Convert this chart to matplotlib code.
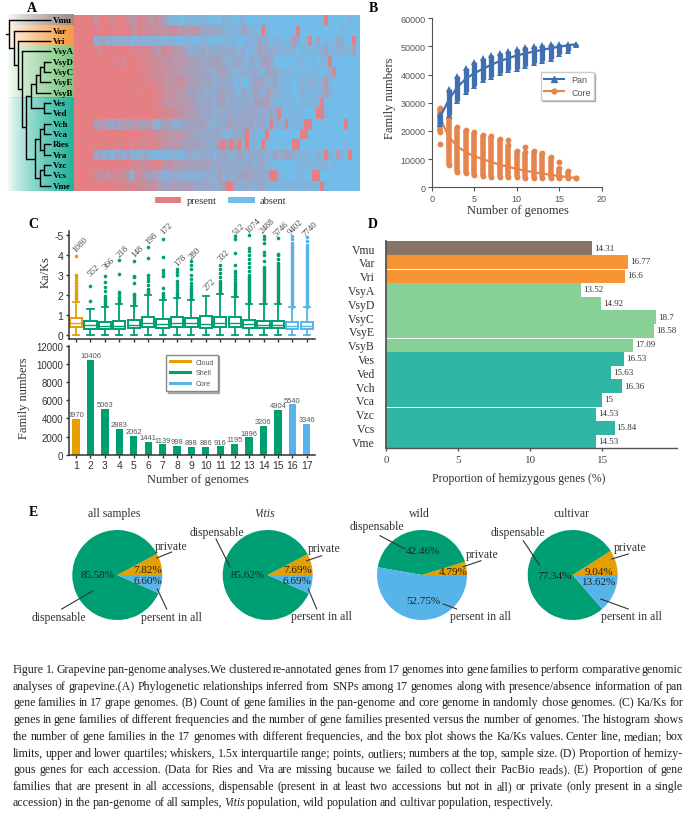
# Figure 1 grapevine pan-genome: panels A-E plus the caption, laid out in pixels

import numpy as np
import matplotlib
matplotlib.use('Agg')
import matplotlib.pyplot as plt
from matplotlib.colors import LinearSegmentedColormap, to_rgb
from matplotlib.lines import Line2D
from matplotlib.patches import Rectangle

W, H = 695, 820
serif = 'Liberation Serif'
sans = 'Liberation Sans'
c_cloud, c_shell, c_core = '#e69f00', '#009e73', '#56b4e9'

# panel A
accessions = ['Vmu', 'Var', 'Vri', 'VsyA', 'VsyD', 'VsyC', 'VsyE', 'VsyB', 'Ves', 'Ved',
              'Vch', 'Vca', 'Ries', 'Vra', 'Vzc', 'Vcs', 'Vme']
# 0 = present, 9 = absent, in between = blurred mix of the two
presence = [
    '000003100210 023312242356 888978887898 978898799989 899999999999 999099999899',
    '000000100100 102302223233 224343356566 678878568790 899999990999 999999989999',
    '000007657677 768778787878 788878987898 887889978767 797889846981 969898679909',
    '000000200100 001111123412 334467675767 667678688756 767787779888 887688777859',
    '000000000010 200011122233 343445556655 567766786775 569999998899 898819999999',
    '000000000000 000001122223 334445565667 556778677678 566788889889 889872999999',
    '000000000000 000100201223 332245456567 667697996656 775888898787 787389999999',
    '000000000000 000010001123 234355566767 556678677568 467788899788 887579999999',
    '000000000000 000000001123 334344566667 557676767555 478888889888 871999999999',
    '000000000000 000000000111 223344556667 676676666676 766188888899 901899999999',
    '000005445656 445355447755 677656555677 675566665766 817780888800 999999990999',
    '000000000000 000001112223 433445666666 678767507888 099999999009 999999999999',
    '000000010002 002012111133 343555556676 305050708790 899989900999 999999998999',
    '000006576866 757776688888 778866776768 666775676767 785765677878 978079479099',
    '000000000001 001122211033 344455555566 667676766766 889999998887 887798999999',
    '000002223212 237323554677 667777777677 476766556667 610889998899 009999999899',
    '000000000011 021122323456 455545666667 650067767766 888888788878 880999999999',
]
# tree as (branch x, children), an int child is a row of the heatmap
tree = (9, [0, (14, [1, (17.5, [2, (22, [3, (26, [
    (31, [(36, [(39.5, [(44, [4, 5]), 6]), 7]), (43.5, [8, 9])]),
    (35, [(39.5, [(44, [10, 11]), (44, [12, 13])]), (39.5, [(44, [14, 15]), 16])]),
])])])])])

# panel B
genomes = np.arange(1, 18)
pan_mean = [25000, 31000, 35500, 38500, 40500, 42000, 43500, 44800, 45800, 46800, 47500, 48200, 48800, 49400, 49900, 50400, 50800]
pan_low = [22500, 25500, 30500, 34000, 36000, 38000, 39000, 40500, 41500, 42000, 43000, 44000, 45000, 45500, 47500, 48500, 50500]
pan_high = [26000, 35000, 39500, 42300, 44500, 45800, 46800, 47800, 48400, 49000, 49700, 50000, 50500, 50700, 50800, 51000, 51000]
core_mean = [24500, 18000, 14500, 12500, 11000, 10000, 9000, 8000, 7300, 6500, 5900, 5300, 4900, 4400, 4000, 3600, 3346]
core_low = [19500, 8000, 5500, 5000, 4500, 4000, 3800, 3500, 3500, 3500, 3400, 3400, 3400, 3400, 3400, 3400, 3300]
core_high = [28000, 24500, 21500, 20300, 19500, 18500, 18300, 17000, 15000, 12800, 12500, 12800, 12200, 10800, 7000, 5700, 3400]
core_x_extra = [1, 9, 11, 15]
core_y_extra = [15500, 16800, 14200, 8900]

# panel C
family_numbers = [3970, 10406, 5063, 2883, 2062, 1441, 1139, 998, 898, 886, 916, 1195, 1896, 3206, 4904, 5540, 3346]
sample_size = [1080, 552, 366, 218, 148, 198, 172, 178, 280, 272, 332, 512, 1074, 2488, 5746, 9402, 7740]
size_label_y = [4.55, 3.24, 3.57, 4.2, 4.2, 4.83, 5.33, 3.74, 4.12, 2.53, 3.97, 5.28, 5.45, 5.45, 5.33, 5.4, 5.33]
q1 = [.4, .3, .3, .3, .35, .38, .35, .4, .38, .37, .38, .4, .35, .33, .33, .3, .3]
med = [.6, .5, .47, .47, .52, .58, .55, .6, .6, .55, .58, .62, .55, .52, .52, .47, .47]
q3 = [.85, .7, .65, .7, .75, .92, .78, .88, .83, .93, .9, .9, .75, .72, .72, .65, .65]
whisker = [1.65, 1.28, 1.4, 1.55, 1.45, 2.0, 1.72, 1.85, 1.72, 1.95, 2.05, 1.9, 1.55, 1.55, 1.55, 1.38, 1.38]
dense_a = [1.6, 1.7, 1.8, 1.9, 2.0, 2.1, 2.2, 2.3, 2.4, 2.5, 2.6, 2.7, 2.8, 2.9, 3.0]
dense_b = [3.1, 3.2, 3.3, 3.4, 3.5, 3.6, 3.7, 3.8, 3.9, 4.0, 4.1, 4.2, 4.3, 4.4, 4.5]
outliers = [
    [1.8, 1.9, 2.0, 2.1, 2.2, 2.3, 2.45, 2.6, 2.75, 2.9, 3.0, 3.95],
    [1.68, 2.45],
    [1.45, 1.55, 1.65, 1.75, 1.85, 1.95, 2.2, 2.4, 2.65, 2.95],
    [1.6, 1.7, 1.8, 1.9, 2.05, 2.15, 3.05, 3.75],
    [1.5, 1.6, 1.7, 1.8, 1.9, 2.0, 2.05, 2.6, 2.9, 2.95, 3.7],
    [2.1, 2.2, 2.3, 2.5, 2.7, 2.85, 3.0, 3.85, 4.4],
    [1.8, 1.9, 2.0, 2.1, 2.35, 2.95, 3.1, 3.25, 3.9, 4.8],
    [1.9, 2.0, 2.1, 2.25, 2.4, 2.55, 2.7, 3.0, 3.15, 3.3],
    [1.8, 1.9, 2.0, 2.1, 2.2, 2.3, 2.45, 2.6, 2.8, 3.0, 3.3, 3.5, 3.7],
    [],
    [2.1, 2.2, 2.3, 2.4, 2.5, 2.6, 2.7, 2.9, 3.1, 3.3, 3.5],
    [1.95, 2.05, 2.15, 2.25, 2.35, 2.45, 2.55, 2.65, 2.8, 2.95, 3.1, 3.2, 3.5, 4.1, 4.8, 4.95],
    dense_a + [3.2, 3.4, 3.6, 3.8, 4.0, 4.2, 4.35, 5.0],
    dense_a + [3.1, 3.2, 3.3, 3.4, 3.7, 4.0, 4.15, 4.6, 4.8, 4.95],
    dense_a + [3.1, 3.2, 3.3, 3.4, 3.5, 3.6, 3.8, 4.0, 4.05, 4.85],
    [1.4, 1.5] + dense_a + dense_b + [4.6, 4.8, 4.95],
    [1.4, 1.5] + dense_a + dense_b + [4.7, 4.9],
]

# panel D
hemi_names = ['Vmu', 'Var', 'Vri', 'VsyA', 'VsyD', 'VsyC', 'VsyE', 'VsyB', 'Ves', 'Ved',
              'Vch', 'Vca', 'Vzc', 'Vcs', 'Vme']
hemi_values = [14.31, 16.77, 16.6, 13.52, 14.92, 18.7, 18.58, 17.09, 16.53, 15.63, 16.36, 15, 14.53, 15.84, 14.53]
hemi_colors = ['#8a7467'] + ['#f79433'] * 2 + ['#88d196'] * 5 + ['#2fb6a5'] * 7

# panel E: private, dispensable, present in all
pie_titles = ['all samples', 'Vitis', 'wild', 'cultivar']
pie_values = [[7.82, 85.58, 6.60], [7.69, 85.62, 6.69], [4.79, 42.46, 52.75], [9.04, 77.34, 13.62]]
pie_centres = [117.3, 267.7, 422, 572.7]

caption = [
    'Figure 1. Grapevine pan-genome analyses.We clustered re-annotated genes from 17 genomes into gene families to perform comparative genomic',
    'analyses of grapevine.(A) Phylogenetic relationships inferred from SNPs among 17 genomes along with presence/absence information of pan',
    'gene families in 17 grape genomes. (B) Count of gene families in the pan-genome and core genome in randomly chose genomes. (C) Ka/Ks for',
    'genes in gene families of different frequencies and the number of gene families presented versus the number of genomes. The histogram shows',
    'the number of gene families in the 17 genomes with different frequencies, and the box plot shows the Ka/Ks values. Center line, median; box',
    'limits, upper and lower quartiles; whiskers, 1.5x interquartile range; points, outliers; numbers at the top, sample size. (D) Proportion of hemizy-',
    'gous genes for each accession. (Data for Ries and Vra are missing bucause we failed to collect their PacBio reads). (E) Proportion of gene',
    'families that are present in all accessions, dispensable (present in at least two accessions but not in all) or private (only present in a single',
    'accession) in the pan-genome of all samples, Vitis population, wild population and cultivar population, respectively.',
]
caption_y = [673, 690, 706, 723, 740, 757, 773, 790, 806]

fig = plt.figure(figsize=(W / 100, H / 100), dpi=100)


def px_axes(x0, y0, x1, y1, **kw):
    # axes from a pixel box, y counted from the top of the picture
    return fig.add_axes([x0 / W, 1 - y1 / H, (x1 - x0) / W, (y1 - y0) / H], **kw)


page = px_axes(0, 0, W, H, zorder=10)
page.set_xlim(0, W)
page.set_ylim(H, 0)
page.axis('off')
page.patch.set_alpha(0)


def label(x, y, s, size=8, color='#333333', family=serif, **kw):
    kw.setdefault('ha', 'center')
    kw.setdefault('va', 'center')
    return page.text(x, y, s, fontsize=size, color=color, family=family, **kw)


for letter, x, y in [('A', 32, 8), ('B', 373, 9), ('C', 33, 224), ('D', 373, 224), ('E', 33, 512)]:
    label(x, y, letter, size=10, color='black', fontweight='bold')

# ---- A
hm_x0, hm_x1, hm_y0, hm_y1 = 74, 360, 16, 192
row_h = (hm_y1 - hm_y0) / len(accessions)
cells = np.array([[int(ch) for ch in row.replace(' ', '')] for row in presence])
ax = px_axes(hm_x0, hm_y0, hm_x1, hm_y1)
cmap = LinearSegmentedColormap.from_list('pa', ['#e57f84', '#72bcea'])
ax.imshow(cells, cmap=cmap, vmin=0, vmax=9, aspect='auto', interpolation='nearest')
ax.axis('off')

bands = [(0, 1, '#9b8d85'), (1, 3, '#f79a3e'), (3, 8, '#7cc77f'), (8, 17, '#1fb39a')]
for first, last, col in bands:
    grad = np.ones((1, 100, 4))
    grad[..., :3] = to_rgb(col)
    grad[..., 3] = np.linspace(0, 1, 100) ** 0.7
    page.imshow(grad, extent=(7, hm_x0, hm_y0 + last * row_h, hm_y0 + first * row_h), aspect='auto', zorder=1)
page.set_xlim(0, W)
page.set_ylim(H, 0)


def row_y(row):
    return hm_y0 + (row + 0.5) * row_h


def draw_tree(node):
    # returns y of the node, draws the vertical and the branches to the children
    x, children = node
    ys = []
    for ch in children:
        if isinstance(ch, int):
            y = row_y(ch)
            page.plot([x, 50.5], [y, y], color='black', lw=1, zorder=2, solid_capstyle='butt')
        else:
            y = draw_tree(ch)
            page.plot([x, ch[0]], [y, y], color='black', lw=1, zorder=2, solid_capstyle='butt')
        ys.append(y)
    page.plot([x, x], [ys[0], ys[-1]], color='black', lw=1, zorder=2)
    return (ys[0] + ys[-1]) / 2


root_y = draw_tree(tree)
page.plot([6, 9], [root_y, root_y], color='black', lw=1, zorder=2)
for i, name in enumerate(accessions):
    label(52.5, row_y(i), name, size=6.5, color='black', ha='left', fontweight='bold', zorder=3)

page.add_patch(Rectangle((155, 197.5), 26, 6.5, color='#e57f84', lw=0))
label(187, 201, 'present', size=7.5, ha='left')
page.add_patch(Rectangle((228, 197.5), 27, 6.5, color='#72bcea', lw=0))
label(260, 201, 'absent', size=7.5, ha='left')

# ---- B
ax = px_axes(431.7, 19.3, 601.7, 188.3)
blue, orange = '#4070b0', '#e5854d'
ax.vlines(genomes, core_low, core_high, color=orange, lw=4)
ax.plot(genomes, core_low, 'o', color=orange, ms=4.2, mew=0)
ax.plot(genomes, core_high, 'o', color=orange, ms=4.2, mew=0)
ax.plot(core_x_extra, core_y_extra, 'o', color=orange, ms=4.2, mew=0)
ax.plot(genomes, core_mean, '-', color=orange, lw=1.6)
ax.vlines(genomes, pan_low, pan_high, color=blue, lw=3.8)
ax.plot(genomes, pan_high, '^', color=blue, ms=4.4, mew=0)
ax.plot(genomes, pan_low, '^', color=blue, ms=4.4, mew=0)
ax.plot(genomes, pan_mean, '-', color=blue, lw=1.6)
ax.set_xlim(0, 20)
ax.set_ylim(0, 60000)
ax.set_xticks([0, 5, 10, 15, 20])
ax.set_yticks(range(0, 60001, 10000))
ax.tick_params(labelsize=6.5, labelcolor='#555555', color='#555555', length=3, width=0.8, pad=1.5)
for t in ax.get_xticklabels() + ax.get_yticklabels():
    t.set_family(sans)
for s in ['top', 'right']:
    ax.spines[s].set_visible(False)
for s in ['left', 'bottom']:
    ax.spines[s].set_color('#555555')
ax.legend([Line2D([], [], color=blue, marker='^', ms=4, lw=1.5), Line2D([], [], color=orange, marker='o', ms=3.5, lw=1.5)],
          ['Pan', 'Core'], loc='center', bbox_to_anchor=(567.5 / W, 1 - 87 / H), bbox_transform=fig.transFigure,
          prop={'family': sans, 'size': 6.5}, labelcolor='#555555', shadow={'ox': 1, 'oy': -1, 'alpha': 0.4},
          fancybox=False, framealpha=1, borderpad=0.35, labelspacing=0.35, handlelength=2.2)
label(390, 98, 'Family numbers', size=9, rotation=90)
label(518, 211, 'Number of genomes', size=9)

# ---- C top
group_color = [c_cloud] + [c_shell] * 14 + [c_core] * 2
ax = px_axes(69, 231.7, 315, 340)
for i in range(17):
    stats = [dict(med=med[i], q1=q1[i], q3=q3[i], whislo=0, whishi=whisker[i], fliers=outliers[i])]
    col = group_color[i]
    ax.bxp(stats, positions=[i + 1], widths=0.85, patch_artist=True, manage_ticks=False,
           boxprops=dict(edgecolor=col, facecolor='white', lw=1.4),
           medianprops=dict(color=col, lw=1),
           whiskerprops=dict(color=col, lw=1.3), capprops=dict(color=col, lw=1.3),
           flierprops=dict(marker='o', ms=2.6, mfc=col, mec=col, mew=0))
    ax.text(i + 1.25, size_label_y[i], str(sample_size[i]), rotation=45, ha='center', va='center', fontsize=6.3,
            color='#444444', family=serif, clip_on=False)
ax.set_xlim(0.51, 17.57)
ax.set_ylim(-0.2, 5.2)
ax.set_yticks([0, 1, 2, 3, 4, 5])
ax.set_yticklabels(['0', '1', '2', '3', '4', '-5'], family=sans, fontsize=7.5, color='#333333')
ax.set_xticks(range(1, 18))
ax.set_xticklabels([])
ax.tick_params(length=2.5, width=1, pad=1.5, color='#333333')
for s in ['top', 'right']:
    ax.spines[s].set_visible(False)
for s in ['left', 'bottom']:
    ax.spines[s].set_linewidth(1.1)
    ax.spines[s].set_color('#333333')
label(46, 272, 'Ka/Ks', size=9, rotation=90)

# ---- C bottom
ax = px_axes(69, 346.7, 315, 455.7)
ax.bar(range(1, 18), family_numbers, width=0.5, color=group_color)
for i, v in enumerate(family_numbers):
    ax.text(i + 1, v + 90, str(v), ha='center', va='bottom', fontsize=5.4, family=sans, color='#555555')
ax.set_xlim(0.51, 17.57)
ax.set_ylim(0, 12000)
ax.set_yticks(range(0, 12001, 2000))
ax.set_xticks(range(1, 18))
ax.tick_params(axis='y', labelsize=7, labelcolor='#333333', length=2.5, width=1, pad=1.5, color='#333333')
ax.tick_params(axis='x', labelsize=7.5, labelcolor='#333333', length=2.5, width=1, pad=1.5, color='#333333')
for t in ax.get_xticklabels() + ax.get_yticklabels():
    t.set_family(sans)
for s in ['top', 'right']:
    ax.spines[s].set_visible(False)
for s in ['left', 'bottom']:
    ax.spines[s].set_linewidth(1.1)
    ax.spines[s].set_color('#333333')
ax.legend([Line2D([], [], color=c, lw=2.2) for c in (c_cloud, c_shell, c_core)], ['Cloud', 'Shell', 'Core'],
          loc='center', bbox_to_anchor=(192 / W, 1 - 374 / H), bbox_transform=fig.transFigure,
          prop={'family': sans, 'size': 5}, labelcolor='#555555', shadow={'ox': 1, 'oy': -1, 'alpha': 0.4},
          fancybox=False, framealpha=1, edgecolor='#888888', borderpad=0.6, labelspacing=0.55, handlelength=2.8)
label(24, 398, 'Family numbers', size=9, rotation=90)
label(198, 480, 'Number of genomes', size=9)

# ---- D
ax = px_axes(386, 242.3, 676.7, 449.3)
y = np.arange(len(hemi_names))
ax.barh(y, hemi_values, height=1, color=hemi_colors, edgecolor='none')
for line_at in [1.5, 6.5, 11.5]:
    ax.plot([0, hemi_values[int(line_at + 0.5)]], [line_at, line_at], color='white', lw=0.7)
for i, v in enumerate(hemi_values):
    ax.text(v + 0.15, i - 0.05, f'{v:g}', ha='left', va='center', fontsize=6.5, family=serif, color='#333333',
            bbox=dict(fc='white', ec='none', pad=0.8))
ax.set_ylim(len(hemi_names) - 0.5, -0.5)
ax.set_xlim(0, 20.15)
ax.set_xticks([0, 5, 10, 15])
ax.set_yticks(y)
ax.set_yticklabels(hemi_names, family=serif, fontsize=8.5, color='#333333')
ax.tick_params(axis='y', length=0, pad=8)
ax.tick_params(axis='x', length=2.5, width=1, pad=2, color='#555555')
for t in ax.get_xticklabels():
    t.set_family(serif)
    t.set_fontsize(8)
    t.set_color('#444444')
for s in ['top', 'right']:
    ax.spines[s].set_visible(False)
ax.spines['left'].set_linewidth(1.3)
ax.spines['bottom'].set_linewidth(1.0)
ax.spines['left'].set_color('#555555')
ax.spines['bottom'].set_color('#555555')
label(519, 479, 'Proportion of hemizygous genes (%)', size=8.5)

# ---- E
for cx, vals in zip(pie_centres, pie_values):
    ax = px_axes(cx - 45, 531, cx + 45, 621)
    ax.pie(vals, colors=[c_cloud, c_shell, c_core], startangle=0, counterclock=True, radius=1,
           wedgeprops=dict(lw=0))
    ax.set_xlim(-1, 1)
    ax.set_ylim(-1, 1)

for x, s, st in zip([113.7, 264.3, 419, 571.7], pie_titles, ['normal', 'italic', 'normal', 'normal']):
    label(x, 514, s, size=8.5, style=st)

pct_x = [[148, 97.7, 147.7], [297.7, 247.7, 297.3], [453.3, 423.3, 423.3], [599.3, 554, 599.3]]
pct_y = [[571, 576, 581.7], [571, 576, 581.7], [572.3, 551.7, 601.7], [572.3, 576.7, 582.3]]
for xs, ys, vals in zip(pct_x, pct_y, pie_values):
    for x, y0, v in zip(xs, ys, vals):
        label(x, y0, f'{v:.2f}%', size=8, color='#222222')

pie_notes = [
    ('private', 171, 546.7, (171.7, 553), (156.7, 559)),
    ('dispensable', 59.3, 617.7, (61.7, 610), (93.3, 591.7)),
    ('persent in all', 171, 617.7, (166.7, 610), (157.3, 590)),
    ('private', 324.3, 549, (321.7, 556.7), (306.7, 561.7)),
    ('dispensable', 216.7, 532.7, (216, 540), (230, 568)),
    ('persent in all', 321.3, 617.3, (316.7, 610), (308.3, 590)),
    ('dispensable', 376.7, 527.3, (380, 536.7), (405, 550)),
    ('private', 481.7, 555, (481, 561.7), (463.3, 567.7)),
    ('persent in all', 480, 617.3, (456.7, 610), (443.3, 605)),
    ('dispensable', 518.3, 533, (523.3, 541.7), (539.3, 565.7)),
    ('private', 630, 547.7, (628.3, 555), (611.7, 560)),
    ('persent in all', 631.7, 617.3, (628.3, 610), (600.7, 600)),
]
for s, x, y0, a, b in pie_notes:
    label(x, y0, s, size=8.5)
    page.plot([a[0], b[0]], [a[1], b[1]], color='#333333', lw=0.8)

# ---- caption, every line but the last stretched to the full width
renderer = fig.canvas.get_renderer()
cap_x0, cap_x1 = 13, 683
for n, (line, y0) in enumerate(zip(caption, caption_y)):
    words = [label(0, y0, w, size=8.6, color='#222222', ha='left', va='baseline',
                   style='italic' if w == 'Vitis' else 'normal')
             for w in line.split(' ')]
    widths = [t.get_window_extent(renderer).width for t in words]
    gap = (cap_x1 - cap_x0 - sum(widths)) / (len(words) - 1) if n < len(caption) - 1 else 2.2
    x = cap_x0
    for t, w in zip(words, widths):
        t.set_x(x)
        x += w + gap

fig.savefig('out.png', dpi=100)
